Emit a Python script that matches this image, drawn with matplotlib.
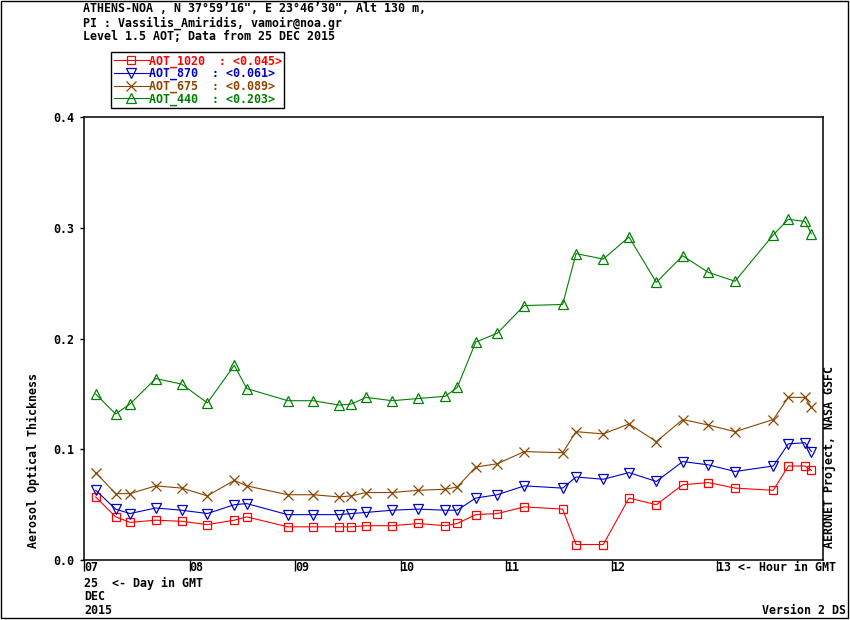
import matplotlib
matplotlib.use("Agg")
import matplotlib.pyplot as plt

# hours (GMT) on 25 DEC 2015
hours = [7.111, 7.300, 7.436, 7.680, 7.926, 8.169, 8.425, 8.542, 8.931, 9.174,
         9.420, 9.534, 9.673, 9.922, 10.169, 10.425, 10.538, 10.713, 10.918, 11.173,
         11.537, 11.664, 11.922, 12.166, 12.425, 12.675, 12.918, 13.171, 13.534, 13.676,
         13.834, 13.894]

aot_1020 = [0.057, 0.039, 0.034, 0.036, 0.035, 0.032, 0.036, 0.039, 0.030, 0.030,
            0.030, 0.030, 0.031, 0.031, 0.033, 0.031, 0.033, 0.041, 0.042, 0.048,
            0.046, 0.014, 0.014, 0.056, 0.050, 0.068, 0.070, 0.065, 0.063, 0.085,
            0.085, 0.081]
aot_870 = [0.063, 0.046, 0.042, 0.047, 0.045, 0.042, 0.050, 0.051, 0.041, 0.041,
           0.041, 0.042, 0.043, 0.045, 0.046, 0.045, 0.045, 0.056, 0.059, 0.067,
           0.065, 0.075, 0.073, 0.079, 0.071, 0.089, 0.086, 0.080, 0.085, 0.105,
           0.106, 0.098]
aot_675 = [0.079, 0.060, 0.060, 0.067, 0.065, 0.058, 0.072, 0.067, 0.059, 0.059,
           0.057, 0.058, 0.061, 0.061, 0.063, 0.064, 0.066, 0.084, 0.087, 0.098,
           0.097, 0.116, 0.114, 0.123, 0.107, 0.127, 0.122, 0.116, 0.127, 0.147,
           0.147, 0.138]
aot_440 = [0.150, 0.132, 0.141, 0.164, 0.159, 0.142, 0.176, 0.155, 0.144, 0.144,
           0.140, 0.141, 0.147, 0.144, 0.146, 0.148, 0.156, 0.197, 0.205, 0.230,
           0.231, 0.277, 0.272, 0.292, 0.251, 0.275, 0.260, 0.252, 0.294, 0.308,
           0.306, 0.295]

series_names = ["AOT_1020", "AOT_870", "AOT_675", "AOT_440"]
series_means = ["0.045", "0.061", "0.089", "0.203"]
hour_ticks = [7, 8, 9, 10, 11, 12, 13]
hour_labels = ["07", "08", "09", "10", "11", "12", "13 <- Hour in GMT"]
aot_ticks = [0.0, 0.1, 0.2, 0.3, 0.4]
aot_labels = ["0.0", "0.1", "0.2", "0.3", "0.4"]

W, H = 850, 620
FONT = dict(family="DejaVu Sans Mono", weight="bold", size=8.4)


def fx(x):
    return x / W


def fy(y):
    return 1 - y / H


def main():
    plt.rcParams["font.family"] = "DejaVu Sans Mono"
    plt.rcParams["font.weight"] = "bold"
    fig = plt.figure(figsize=(8.5, 6.2), dpi=100)
    fig.patch.set_facecolor("white")
    ax = fig.add_axes([fx(84), fy(560), fx(822.5) - fx(84), fy(117.5) - fy(560)])

    styles = [
        (aot_1020, "#FF0000", "s", 6.3),
        (aot_870, "#0000CC", "v", 7),
        (aot_675, "#8B4500", "x", 7),
        (aot_440, "#008000", "^", 7),
    ]
    for (vals, color, marker, ms), name, mean in zip(styles, series_names, series_means):
        ax.plot(hours, vals, color=color, lw=0.8, marker=marker, ms=ms,
                mfc="none", mec=color, mew=0.9,
                label=f"{name}  : <{mean}>")

    ax.set_xlim(7, 14)
    ax.set_ylim(0, 0.4)
    ax.set_xticks(hour_ticks)
    ax.set_xticklabels(hour_labels, ha="left", fontdict=FONT)
    ax.set_yticks(aot_ticks)
    ax.set_yticklabels(aot_labels, fontdict=FONT)
    ax.tick_params(axis="x", direction="out", length=8, width=1, pad=-2.9)
    ax.tick_params(axis="y", direction="out", length=3, width=1, pad=4)
    for lbl in ax.get_xticklabels():
        lbl.set_va("center")
    for s in ax.spines.values():
        s.set_linewidth(1.1)

    leg = fig.legend(loc="upper left", bbox_to_anchor=(fx(111.5), fy(52)),
                     prop=FONT, labelcolor="linecolor", frameon=True,
                     fancybox=False, edgecolor="black", framealpha=1,
                     borderpad=0.2, borderaxespad=0, handlelength=3.0,
                     handletextpad=0.0, labelspacing=-0.05, markerscale=1.0)
    leg.get_frame().set_linewidth(1.0)

    # header
    fig.text(fx(83), fy(8.5), "ATHENS-NOA , N 37°59’16\", E 23°46’30\", Alt 130 m,",
             va="center", ha="left", **FONT)
    fig.text(fx(83), fy(23.5), "PI : Vassilis_Amiridis, vamoir@noa.gr",
             va="center", ha="left", **FONT)
    fig.text(fx(83), fy(36), "Level 1.5 AOT; Data from 25 DEC 2015",
             va="center", ha="left", **FONT)

    # footer texts
    fig.text(fx(84), fy(583), "25  <- Day in GMT", va="center", ha="left", **FONT)
    fig.text(fx(84), fy(597), "DEC", va="center", ha="left", **FONT)
    fig.text(fx(84), fy(611), "2015", va="center", ha="left", **FONT)
    fig.text(fx(846), fy(610), "Version 2 DS", va="center", ha="right", **FONT)

    fig.text(fx(33), fy(461), "Aerosol Optical Thickness", rotation=90,
             va="center", ha="center", **FONT)
    fig.text(fx(829), fy(457), "AERONET Project, NASA GSFC", rotation=90,
             va="center", ha="center", **FONT)

    # outer frame
    fig.add_artist(plt.Rectangle((fx(1), fy(618)), fx(848) - fx(1), fy(1) - fy(618),
                                 transform=fig.transFigure, fill=False,
                                 edgecolor="black", lw=1.0))

    fig.savefig("out.png", dpi=100)


if __name__ == "__main__":
    main()
